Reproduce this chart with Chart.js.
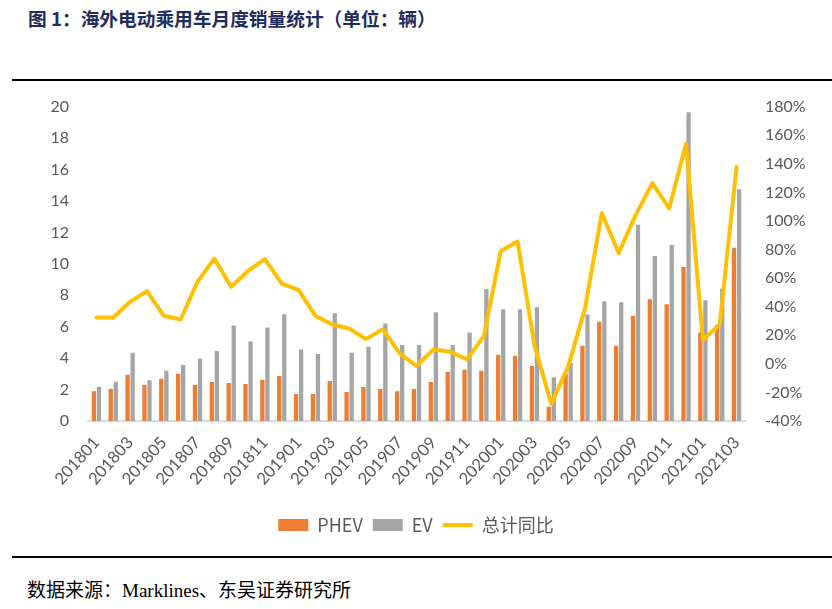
<!DOCTYPE html>
<html>
<head>
<meta charset="utf-8">
<script src="https://cdn.jsdelivr.net/npm/chart.js@4/dist/chart.umd.min.js"></script>
<style>
  html, body { margin: 0; padding: 0; background: #ffffff; }
  body { width: 832px; height: 609px; position: relative; overflow: hidden; }
  #title { position: absolute; left: 28px; top: 4px; font-family: "Noto Sans CJK SC", sans-serif; font-weight: bold; font-size: 18.7px; color: #1f2d5c; white-space: nowrap; }
  .rule { position: absolute; left: 12px; width: 820px; height: 2px; background: #000; }
  #source { position: absolute; left: 27px; top: 575px; font-family: "Liberation Serif", "Noto Sans CJK SC", serif; font-size: 19px; color: #000; white-space: nowrap; }
  #wrap { position: absolute; left: 0; top: 85px; width: 832px; height: 465px; }
</style>
</head>
<body>
<div id="title">图 1：海外电动乘用车月度销量统计（单位：辆）</div>
<div class="rule" style="top:79px"></div>
<div id="wrap"><canvas id="c"></canvas></div>
<div class="rule" style="top:556px"></div>
<div id="source">数据来源：Marklines、东吴证券研究所</div>
<script>
const months = ["201801","201802","201803","201804","201805","201806","201807","201808","201809","201810","201811","201812",
  "201901","201902","201903","201904","201905","201906","201907","201908","201909","201910","201911","201912",
  "202001","202002","202003","202004","202005","202006","202007","202008","202009","202010","202011","202012",
  "202101","202102","202103"];
const phev = [1.9,2.03,2.94,2.29,2.69,3.0,2.29,2.48,2.41,2.35,2.62,2.87,
  1.71,1.71,2.54,1.84,2.16,2.03,1.9,2.03,2.48,3.13,3.26,3.19,
  4.21,4.15,3.5,0.9,3.0,4.78,6.32,4.78,6.7,7.75,7.43,9.8,
  5.63,6.1,11.02];
const ev = [2.18,2.5,4.34,2.6,3.19,3.57,3.96,4.46,6.07,5.06,5.94,6.79,
  4.55,4.27,6.86,4.34,4.72,6.2,4.84,4.84,6.92,4.84,5.63,8.38,
  7.11,7.11,7.24,2.79,3.7,6.77,7.62,7.56,12.48,10.5,11.2,19.64,
  7.68,8.42,14.75];
const yoy = [32.4,32.4,43.4,50.9,33.6,31,57.4,73.7,53.9,65,73.3,56.2,
  51.8,33.6,27.5,24.7,17.3,24.3,7.3,-1.4,10,8.4,3.1,19.4,
  78.9,85.6,13.1,-28.1,-2,38.6,105.5,77.6,103.9,126.5,108.7,154,
  16.6,27.5,137.8];
const seriesNames = ["PHEV","EV","总计同比"];

const tickFont = { family: "Lato, 'Noto Sans', sans-serif", size: 16 };
const xTickFont = { family: "Lato, 'Noto Sans', sans-serif", size: 16.5 };
const tickColor = "#595959";

new Chart(document.getElementById("c"), {
  data: {
    labels: months,
    datasets: [
      { type: "bar", label: seriesNames[0], data: phev, backgroundColor: "#ED7D31", borderWidth: 0,
        yAxisID: "y", order: 2, categoryPercentage: 0.6, barPercentage: 0.85, pointStyle: "rect" },
      { type: "bar", label: seriesNames[1], data: ev, backgroundColor: "#A5A5A5", borderWidth: 0,
        yAxisID: "y", order: 2, categoryPercentage: 0.6, barPercentage: 0.85, pointStyle: "rect" },
      { type: "line", label: seriesNames[2], data: yoy, borderColor: "#FFC000", backgroundColor: "#FFC000",
        borderWidth: 4, pointRadius: 0, tension: 0, yAxisID: "y1", order: 1, pointStyle: "line",
        borderJoinStyle: "round", borderCapStyle: "round" }
    ]
  },
  options: {
    responsive: true,
    maintainAspectRatio: false,
    animation: false,
    events: [],
    layout: { padding: { top: 20, bottom: 6, left: 0, right: 0 } },
    plugins: {
      tooltip: { enabled: false },
      legend: {
        position: "bottom",
        labels: {
          usePointStyle: true,
          pointStyleWidth: 30,
          boxWidth: 30,
          boxHeight: 12,
          padding: 10,
          color: tickColor,
          font: { family: "'Noto Sans CJK SC', sans-serif", size: 18 },
          sort: function(a, b) { return a.datasetIndex - b.datasetIndex; }
        }
      }
    },
    scales: {
      x: {
        grid: { display: false },
        border: { display: true, color: "#D9D9D9", width: 2 },
        ticks: {
          autoSkip: false, maxRotation: 48, minRotation: 48, color: tickColor, font: xTickFont, padding: 4,
          callback: function(v, i) { return i % 2 === 0 ? months[i] : ""; }
        },
        afterFit: function(s) { s.height = 85; }
      },
      y: {
        position: "left", min: 0, max: 20,
        grid: { display: false }, border: { display: false },
        ticks: { stepSize: 2, color: tickColor, font: tickFont, padding: 11 },
        afterFit: function(s) { s.width = 88; }
      },
      y1: {
        position: "right", min: -40, max: 180,
        grid: { display: false }, border: { display: false },
        ticks: { stepSize: 20, color: tickColor, font: tickFont, padding: 12,
          callback: function(v) { return v + "%"; } },
        afterFit: function(s) { s.width = 87; }
      }
    }
  }
});
</script>
</body>
</html>
